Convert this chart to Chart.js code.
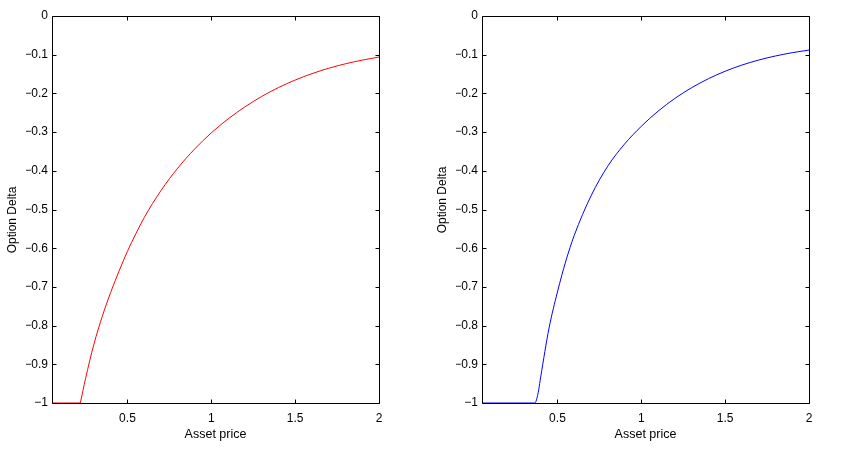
<!DOCTYPE html>
<html>
<head>
<meta charset="utf-8">
<script src="https://cdn.jsdelivr.net/npm/chart.js@4/dist/chart.umd.min.js"></script>
<style>
  html, body { margin: 0; padding: 0; background: #fff; }
  #wrap { position: relative; width: 852px; height: 472px; }
  canvas { position: absolute; top: 0; }
</style>
</head>
<body>
<div id="wrap">
  <canvas id="c1" width="426" height="472" style="left:0px"></canvas>
  <canvas id="c2" width="426" height="472" style="left:426px"></canvas>
</div>
<script>
// ---- data ----
const xMin = 0.05, xMax = 2;
const xTickValues = [0.5, 1, 1.5, 2];
const yTickValues = [0, -0.1, -0.2, -0.3, -0.4, -0.5, -0.6, -0.7, -0.8, -0.9, -1];
const xTitle = 'Asset price';
const yTitle = 'Option Delta';

// left panel (red): exercise region then delta curve
const leftExerciseX = [0.05, 0.219];
const leftExerciseY = [-1, -1];
const leftX = [0.219, 0.25, 0.30, 0.35, 0.40, 0.45, 0.50, 0.60, 0.70, 0.80, 0.90, 1.00, 1.10, 1.20, 1.30, 1.40, 1.50, 1.60, 1.70, 1.80, 1.90, 2.00];
const leftY = [-1.0, -0.937, -0.848, -0.776, -0.714, -0.659, -0.608, -0.521, -0.451, -0.393, -0.344, -0.302, -0.266, -0.235, -0.208, -0.185, -0.1655, -0.149, -0.135, -0.1235, -0.114, -0.106];

// right panel (blue)
const rightX = [0.05, 0.364, 0.375, 0.388, 0.40, 0.45, 0.50, 0.55, 0.60, 0.70, 0.80, 0.90, 1.00, 1.10, 1.20, 1.30, 1.40, 1.50, 1.60, 1.70, 1.80, 1.90, 2.00];
const rightY = [-1, -1.0, -0.992, -0.966, -0.933, -0.806, -0.713, -0.633, -0.567, -0.465, -0.388, -0.331, -0.285, -0.246, -0.213, -0.1853, -0.1621, -0.1428, -0.1268, -0.1138, -0.1033, -0.0948, -0.088];

// ---- helpers ----
const pts = (xs, ys) => xs.map((x, i) => ({x: x, y: ys[i]}));
const FONT = 'Liberation Sans, Arial, Helvetica, sans-serif';

function fmtY(v) {
  if (Math.abs(v) < 1e-9) return '0';
  const s = (Math.round(Math.abs(v) * 10) / 10).toString();
  return (v < 0 ? '\u2212' : '') + s;
}

const boxPlugin = {
  id: 'matlabBox',
  afterDraw(chart, args, opts) {
    const ctx = chart.ctx;
    const a = chart.chartArea;
    const L = Math.round(a.left) + 0.5, R = Math.round(a.right) + 0.5;
    const T = Math.round(a.top) + 0.5, B = Math.round(a.bottom) + 0.5;
    ctx.save();
    ctx.strokeStyle = '#000';
    ctx.lineWidth = 1;
    ctx.beginPath();
    ctx.rect(L, T, R - L, B - T);
    ctx.stroke();
    const tl = 4;
    ctx.beginPath();
    chart.scales.x.ticks.forEach(t => {
      const px = Math.round(chart.scales.x.getPixelForValue(t.value)) + 0.5;
      ctx.moveTo(px, B); ctx.lineTo(px, B - tl);
      ctx.moveTo(px, T); ctx.lineTo(px, T + tl);
    });
    chart.scales.y.ticks.forEach(t => {
      const py = Math.round(chart.scales.y.getPixelForValue(t.value)) + 0.5;
      ctx.moveTo(L, py); ctx.lineTo(L + tl, py);
      ctx.moveTo(R, py); ctx.lineTo(R - tl, py);
    });
    ctx.stroke();
    // rotated y-axis title
    ctx.translate(opts.titleX, opts.titleY);
    ctx.rotate(-Math.PI / 2);
    ctx.fillStyle = '#000';
    ctx.font = '12px ' + FONT;
    ctx.textAlign = 'center';
    ctx.textBaseline = 'middle';
    ctx.fillText(yTitle, 0, 0);
    ctx.restore();
  }
};

function makeChart(id, datasets, padLeft, titleX, titleY) {
  return new Chart(document.getElementById(id), {
    type: 'line',
    data: { datasets: datasets },
    plugins: [boxPlugin],
    options: {
      responsive: false,
      animation: false,
      events: [],
      layout: { padding: { left: padLeft + 26, right: 426 - padLeft - 52 - 327, top: 16, bottom: 0 } },
      plugins: {
        legend: { display: false }, tooltip: { enabled: false },
        matlabBox: { titleX: titleX, titleY: titleY }
      },
      elements: { point: { radius: 0 } },
      scales: {
        x: {
          type: 'linear',
          min: xMin, max: xMax,
          afterBuildTicks: s => { s.ticks = xTickValues.map(v => ({value: v})); },
          afterFit: s => { s.height = 69; },
          grid: { display: false, drawTicks: false },
          border: { display: false },
          ticks: {
            padding: 8, color: '#000', maxRotation: 0, autoSkip: false,
            font: { family: FONT, size: 12 },
            callback: v => String(v)
          },
          title: {
            display: true, text: xTitle, color: '#000',
            font: { family: FONT, size: 12.5 },
            padding: { top: 0, bottom: 30 }
          }
        },
        y: {
          type: 'linear',
          min: -1, max: 0,
          afterBuildTicks: s => { s.ticks = yTickValues.map(v => ({value: v})); },
          afterFit: s => { s.width = 26; },
          grid: { display: false, drawTicks: false },
          border: { display: false },
          ticks: {
            padding: 4, color: '#000', autoSkip: false,
            font: { family: FONT, size: 12 },
            callback: v => fmtY(v)
          },
          title: { display: false }
        }
      }
    }
  });
}

makeChart('c1', [
  { data: pts(leftExerciseX, leftExerciseY), borderColor: 'rgb(255,0,0)', borderWidth: 1, tension: 0 },
  { data: pts(leftX, leftY), borderColor: 'rgb(255,0,0)', borderWidth: 1, cubicInterpolationMode: 'monotone' }
], 0, 13, 220);

makeChart('c2', [
  { data: pts(rightX, rightY), borderColor: 'rgb(0,0,255)', borderWidth: 1, cubicInterpolationMode: 'monotone' }
], 4, 17, 200);
</script>
</body>
</html>
